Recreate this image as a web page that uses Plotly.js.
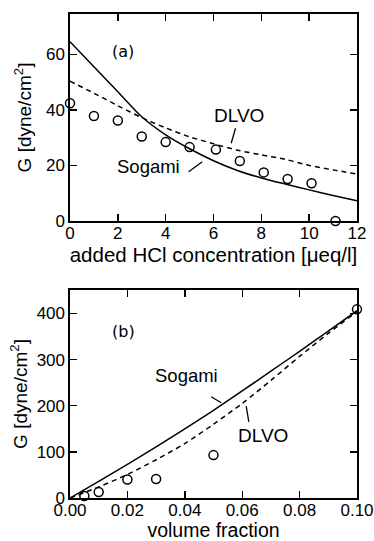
<!DOCTYPE html>
<html>
<head>
<meta charset="utf-8">
<script src="https://cdn.plot.ly/plotly-3.0.1.min.js"></script>
<style>html,body{margin:0;padding:0;background:#fff;}#chart{width:374px;height:541px;}</style>
</head>
<body>
<div id="chart"></div>
<script>
// Panel (a): G vs added HCl concentration
const hclExp = [0, 1, 2, 3, 4, 5, 6.1, 7.1, 8.1, 9.1, 10.1, 11.1];
const gExpA = [42.4, 37.8, 36.2, 30.4, 28.4, 26.6, 25.7, 21.6, 17.5, 15.1, 13.6, 0];
const hclTheory = [0, 1, 2, 3, 4, 5, 6, 7, 8, 9, 10, 11, 12];
const sogamiA = [64.5, 55.5, 46.5, 37.5, 31, 26, 21.7, 18.2, 15.5, 13.3, 11.2, 9.2, 7.3];
const dlvoA = [50.3, 46, 41.5, 37.2, 33.5, 30.3, 27.8, 25.5, 23.8, 22.2, 20.0, 18.4, 16.9];

// Panel (b): G vs volume fraction
const phiExp = [0.005, 0.01, 0.02, 0.03, 0.05, 0.10];
const gExpB = [4.3, 13, 40, 41, 93, 409];
const phiTheory = [0, 0.01, 0.02, 0.03, 0.04, 0.05, 0.06, 0.07, 0.08, 0.09, 0.10];
const sogamiB = [0, 36, 73, 111, 150, 190, 232, 275, 318, 362, 406];
const dlvoB = [0, 24, 51, 83, 118, 160, 205, 255, 307, 357, 404];

const FONT = "Arial, 'Liberation Sans', Helvetica, sans-serif";
const LABELFONT = "'DejaVu Sans', Verdana, sans-serif";
const black = '#000';

const traces = [
  {x: hclTheory, y: sogamiA, mode: 'lines', line: {color: black, width: 1.5, shape: 'spline', smoothing: 0.8}, xaxis: 'x', yaxis: 'y', showlegend: false},
  {x: hclTheory, y: dlvoA, mode: 'lines', line: {color: black, width: 1.5, dash: '5px,4px', shape: 'spline', smoothing: 0.8}, xaxis: 'x', yaxis: 'y', showlegend: false},
  {x: hclExp, y: gExpA, mode: 'markers', marker: {symbol: 'circle-open', size: 9, color: black, line: {width: 1.5}}, cliponaxis: false, xaxis: 'x', yaxis: 'y', showlegend: false},
  {x: phiTheory, y: sogamiB, mode: 'lines', line: {color: black, width: 1.5, shape: 'spline', smoothing: 0.8}, xaxis: 'x2', yaxis: 'y2', showlegend: false},
  {x: phiTheory, y: dlvoB, mode: 'lines', line: {color: black, width: 1.5, dash: '5px,4px', shape: 'spline', smoothing: 0.8}, xaxis: 'x2', yaxis: 'y2', showlegend: false},
  {x: phiExp, y: gExpB, mode: 'markers', marker: {symbol: 'circle-open', size: 9, color: black, line: {width: 1.5}}, cliponaxis: false, xaxis: 'x2', yaxis: 'y2', showlegend: false}
];

const axisCommon = {
  showgrid: false, zeroline: false, showline: true, linecolor: black, linewidth: 1.6,
  mirror: 'ticks', ticks: 'inside', ticklen: 7, tickwidth: 1.4, tickcolor: black,
  ticklabeloverflow: 'allow',
  tickfont: {family: FONT, size: 17, color: black}
};

const layout = {
  width: 374, height: 541,
  margin: {l: 70, r: 17, t: 14, b: 43},
  paper_bgcolor: '#fff', plot_bgcolor: '#fff',
  font: {family: FONT, color: black},
  xaxis: Object.assign({}, axisCommon, {
    domain: [0, 1], anchor: 'y', range: [0, 12], dtick: 2, tick0: 0, ticklabelstandoff: -4,
    title: {text: 'added HCl concentration [μeq/l]', font: {family: FONT, size: 20.5, color: black}, standoff: 0}
  }),
  yaxis: Object.assign({}, axisCommon, {
    domain: [0.5723, 1], anchor: 'x', range: [0, 74.5], dtick: 20, tick0: 0,
    title: {text: 'G [dyne/cm<sup>2</sup>]', font: {family: FONT, size: 19, color: black}, standoff: 9}
  }),
  xaxis2: Object.assign({}, axisCommon, {
    domain: [0, 1], anchor: 'y2', range: [0, 0.1], dtick: 0.02, tick0: 0, tickformat: '.2f', ticklabelstandoff: -4,
    title: {text: 'volume fraction', font: {family: FONT, size: 19.5, color: black}, standoff: 0}
  }),
  yaxis2: Object.assign({}, axisCommon, {
    domain: [0, 0.4298], anchor: 'x2', range: [0, 451], dtick: 100, tick0: 0,
    title: {text: 'G [dyne/cm<sup>2</sup>]', font: {family: FONT, size: 19, color: black}, standoff: 4}
  }),
  annotations: [
    {xref: 'x', yref: 'y', x: 2.22, y: 61, text: '(a)', showarrow: false, font: {family: LABELFONT, size: 16, color: black}},
    {xref: 'x', yref: 'y', x: 7.05, y: 37.8, text: 'DLVO', showarrow: false, font: {family: FONT, size: 19, color: black}},
    {xref: 'x', yref: 'y', x: 3.3, y: 19.6, text: 'Sogami', showarrow: false, font: {family: FONT, size: 18.5, color: black}},
    {xref: 'x2', yref: 'y2', x: 0.0186, y: 362, text: '(b)', showarrow: false, font: {family: LABELFONT, size: 16, color: black}},
    {xref: 'x2', yref: 'y2', x: 0.0405, y: 265, text: 'Sogami', showarrow: false, font: {family: FONT, size: 18.5, color: black}},
    {xref: 'x2', yref: 'y2', x: 0.0672, y: 136, text: 'DLVO', showarrow: false, font: {family: FONT, size: 19, color: black}}
  ],
  shapes: [
    {type: 'line', xref: 'x', yref: 'y', x0: 6.92, y0: 33.4, x1: 6.74, y1: 28.0, line: {color: black, width: 1.3}},
    {type: 'line', xref: 'x', yref: 'y', x0: 4.96, y0: 17.7, x1: 5.53, y1: 21.3, line: {color: black, width: 1.3}},
    {type: 'line', xref: 'x2', yref: 'y2', x0: 0.0492, y0: 219.6, x1: 0.0527, y1: 206.5, line: {color: black, width: 1.3}},
    {type: 'line', xref: 'x2', yref: 'y2', x0: 0.0614, y0: 199, x1: 0.0623, y1: 165, line: {color: black, width: 1.3}}
  ]
};

Plotly.newPlot('chart', traces, layout, {staticPlot: true, displayModeBar: false});
</script>
</body>
</html>
